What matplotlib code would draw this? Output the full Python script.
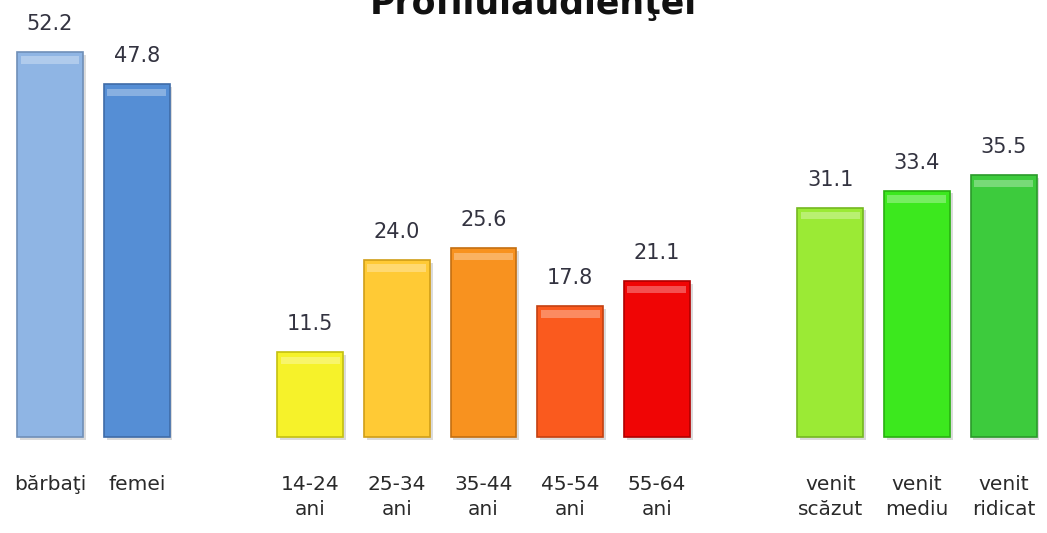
import matplotlib.pyplot as plt
import matplotlib.patheffects as pe

# slots on the x axis (gaps separate the three groups)
positions = [0, 1, 3, 4, 5, 6, 7, 9, 10, 11]
labels = ['bărbaţi', 'femei',
          '14-24\nani', '25-34\nani', '35-44\nani', '45-54\nani', '55-64\nani',
          'venit\nscăzut', 'venit\nmediu', 'venit\nridicat']
values = [52.2, 47.8, 11.5, 24.0, 25.6, 17.8, 21.1, 31.1, 33.4, 35.5]
colors = ['#8FB5E4', '#558ED5',
          '#F6F22A', '#FFCA35', '#F8921F', '#FA5A1E', '#F00505',
          '#9BEA35', '#3CE81E', '#3DCB3D']
edges = ['#6F8FB8', '#3F6CA8',
         '#C4C010', '#D09E18', '#C46E10', '#C44010', '#B00000',
         '#74B820', '#28B010', '#2A9A2A']

fig = plt.figure(figsize=(10.47, 5.33), dpi=100)
ax = fig.add_axes([0, 0, 1, 1])

shadow = [pe.SimplePatchShadow(offset=(2, -2), shadow_rgbFace='#999999', alpha=0.35), pe.Normal()]
bars = ax.bar(positions, values, width=0.76, color=colors, edgecolor=edges, linewidth=1.2)
for b in bars:
    b.set_path_effects(shadow)

# glossy band at the top of each bar
ax.bar(positions, [1.0] * len(values), bottom=[v - 1.6 for v in values], width=0.68,
       color='white', alpha=0.3, linewidth=0)

for x, v in zip(positions, values):
    ax.annotate(f'{v:.1f}', (x, v), xytext=(0, 13), textcoords='offset points',
                ha='center', va='bottom', fontsize=15, color='#333340')

for x, lab in zip(positions, labels):
    ax.text(x, -5.2, lab, ha='center', va='top', fontsize=14.5, color='#2a2a2a',
            linespacing=1.35)

ax.set_xlim(-0.577, 11.5)
ax.set_ylim(-13.0, 59.25)
ax.axis('off')

fig.text(0.509, 0.974, 'Profilulaudienţei', ha='center', va='baseline',
         fontsize=25, fontweight='bold', color='#111111')

fig.savefig('out.png', dpi=100)
